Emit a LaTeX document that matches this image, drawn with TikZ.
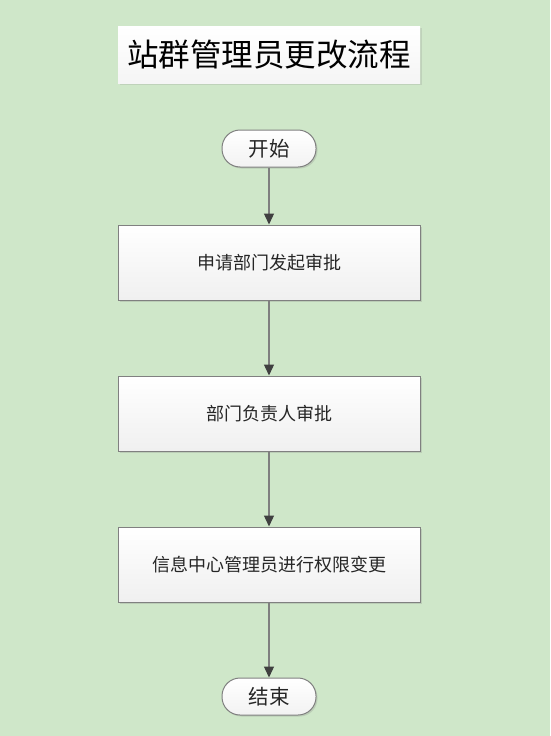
\documentclass[tikz,border=0pt]{standalone}
\usepackage{fontspec}
\newfontfamily\cjk{Noto Sans CJK SC}
\usetikzlibrary{arrows.meta,shadows}
\definecolor{bg}{HTML}{CFE7C9}
\definecolor{edge}{HTML}{7F7F7F}
\definecolor{boxline}{HTML}{808080}
\tikzset{
  x=1pt,y=-1pt,
  procbox/.style={draw=boxline,line width=1pt,top color=white,bottom color=gray!12,
    minimum width=302pt,minimum height=75pt,inner sep=0pt,
    font=\cjk\fontsize{18}{18}\selectfont,text=black!85,
    drop shadow={shadow xshift=1.5pt,shadow yshift=-1.5pt,opacity=0.25}},
  termbox/.style={draw=boxline,line width=1pt,top color=white,bottom color=gray!10,
    rounded corners=18pt,minimum width=94pt,minimum height=37pt,inner sep=0pt,
    font=\cjk\fontsize{20.5}{20.5}\selectfont,text=black!85,
    drop shadow={shadow xshift=1.5pt,shadow yshift=-1.5pt,opacity=0.25}},
  titlebox/.style={fill=white,top color=white,bottom color=gray!8,
    minimum width=302pt,minimum height=57pt,inner sep=0pt,
    font=\cjk\fontsize{31.5}{31.5}\selectfont,text=black,
    drop shadow={shadow xshift=1.5pt,shadow yshift=-1.5pt,opacity=0.2}},
  flow/.style={draw=edge,line width=1.3pt,-{Triangle[length=11pt,width=10pt,color=black!75]}}
}
\begin{document}
\begin{tikzpicture}
\fill[bg] (0,0) rectangle (550,736);
\useasboundingbox (0,0) rectangle (550,736);
\node[titlebox] (title) at (269,54.5) {站群管理员更改流程};
\node[termbox] (start) at (269,148.5) {开始};
\node[procbox] (b1) at (269,262.5) {申请部门发起审批};
\node[procbox] (b2) at (269,413.5) {部门负责人审批};
\node[procbox] (b3) at (269,564.5) {信息中心管理员进行权限变更};
\node[termbox] (end) at (269,696.5) {结束};
\draw[flow] (start) -- (b1);
\draw[flow] (b1) -- (b2);
\draw[flow] (b2) -- (b3);
\draw[flow] (b3) -- (end);
\end{tikzpicture}
\end{document}
